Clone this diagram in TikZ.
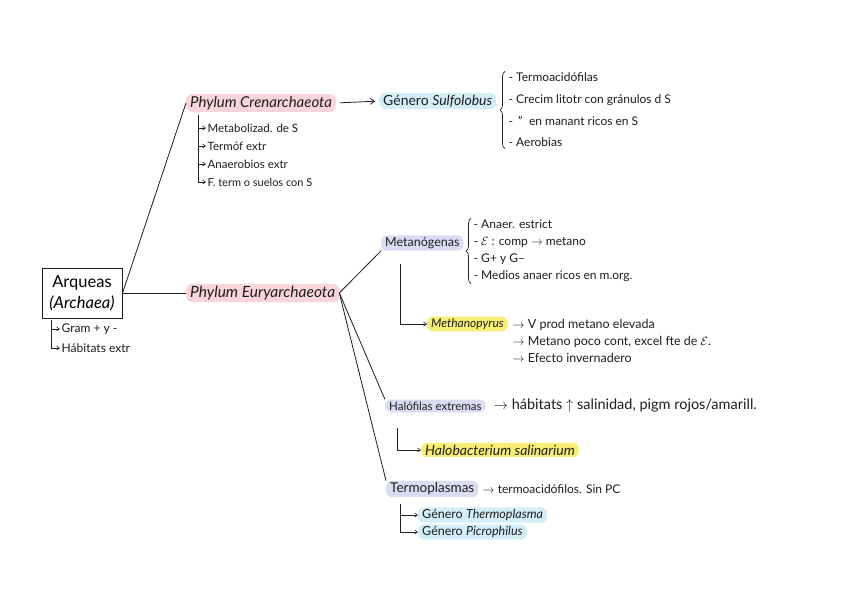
\documentclass[tikz,border=0pt]{standalone}
\usepackage{fontspec}
\setmainfont{Lato}
\usetikzlibrary{positioning,arrows.meta,decorations.pathreplacing}
\definecolor{MarkPink}{HTML}{F9D5DA}
\definecolor{MarkBlue}{HTML}{D3EEF8}
\definecolor{MarkLilac}{HTML}{DADCF4}
\definecolor{MarkYellow}{HTML}{F7EE73}
\definecolor{Ink}{HTML}{1E1E1E}

\tikzset{
  hand/.style={font=\fontsize{11}{13}\selectfont, inner sep=1.5pt, text=Ink},
  marker/.style={hand, rounded corners=6pt, inner xsep=4pt, inner ysep=2pt},
  hook/.style={-{Straight Barb[length=3pt,width=4pt]}, line width=0.6pt, draw=Ink},
  link/.style={line width=0.8pt, draw=Ink},
  curly/.style={decorate, decoration={brace, amplitude=5pt}, line width=0.7pt, draw=Ink}
}

\begin{document}
\begin{tikzpicture}[x=1pt, y=-1pt]
  \useasboundingbox[fill=white] (0,0) rectangle (848,599);

  % raiz
  \node[
    draw=Ink,
    line width=1pt,
    minimum width=80pt,
    minimum height=50pt,
    inner sep=1pt,
    align=center,
    font=\fontsize{16.5}{21}\selectfont
  ] (arq) at (82,293) {Arqueas\\{\itshape (Archaea)}};
  \coordinate (arqroot) at (51,320);
  \node[hand, anchor=west, font=\fontsize{12}{13}\selectfont] (ar1) at (60,329) {Gram + y -};
  \node[hand, anchor=west, font=\fontsize{12}{13}\selectfont] (ar2) at (60,348) {Hábitats extr};
  \foreach \i in {1,2}
    \draw[hook] (arqroot) |- (ar\i.west);

  % phylum crenarchaeota
  \node[marker, fill=MarkPink, anchor=west, font=\fontsize{15}{17}\selectfont\itshape] (crena) at (186,103) {Phylum Crenarchaeota};
  \node[marker, fill=MarkBlue, anchor=west, font=\fontsize{14}{16}\selectfont] (sulfo) at (379,101) {Género \textit{Sulfolobus}};
  \node[
    hand,
    anchor=west,
    align=left,
    font=\fontsize{12}{21.7}\selectfont
  ] (slist) at (507,110) {- Termoacidófilas\\- Crecim litotr con gránulos d S\\- \,''\; en manant ricos en S\\- Aerobias};
  \draw[curly] ([xshift=-2pt]slist.south west) -- ([xshift=-2pt]slist.north west);

  \coordinate (crenroot) at (198,115);
  \node[hand, anchor=west, font=\fontsize{11.5}{12}\selectfont] (cr1) at (206,128) {Metabolizad. de S};
  \node[hand, anchor=west, font=\fontsize{11.5}{12}\selectfont] (cr2) at (206,146) {Termóf extr};
  \node[hand, anchor=west, font=\fontsize{11.5}{12}\selectfont] (cr3) at (206,164) {Anaerobios extr};
  \node[hand, anchor=west, font=\fontsize{11}{12}\selectfont] (cr4) at (206,182) {F. term o suelos con S};
  \foreach \i in {1,...,4}
    \draw[hook] (crenroot) |- (cr\i.west);

  % phylum euryarchaeota
  \node[marker, fill=MarkPink, anchor=west, font=\fontsize{15.5}{17}\selectfont\itshape] (eury) at (186,293) {Phylum Euryarchaeota};

  % metanogenas
  \node[marker, fill=MarkLilac, anchor=west, font=\fontsize{12.5}{14}\selectfont] (metan) at (381,243) {Metanógenas};
  \node[
    hand,
    anchor=west,
    align=left,
    font=\fontsize{12}{17}\selectfont
  ] (mlist) at (472,251) {- Anaer. estrict\\- $\mathcal{E}$ : comp $\to$ metano\\- G+ y G--\\- Medios anaer ricos en m.org.};
  \draw[curly] ([xshift=-1pt]mlist.south west) -- ([xshift=-1pt]mlist.north west);

  \coordinate (metroot) at (400,264);
  \node[marker, fill=MarkYellow, anchor=west, font=\fontsize{12}{13}\selectfont\itshape] (pyrus) at (427,324) {Methanopyrus};
  \node[
    hand,
    anchor=west,
    align=left,
    font=\fontsize{12.5}{17}\selectfont
  ] (plist) at (511,341) {$\to$ V prod metano elevada\\$\to$ Metano poco cont, excel fte de $\mathcal{E}$.\\$\to$ Efecto invernadero};
  \draw[hook] (metroot) |- (pyrus.west);

  % halofilas
  \node[marker, fill=MarkLilac, anchor=west, font=\fontsize{11.5}{14}\selectfont] (halo) at (385,406) {Halófilas extremas};
  \node[hand, anchor=west, font=\fontsize{14.5}{17}\selectfont] (hdesc) at (492,406) {$\to$ hábitats $\uparrow$ salinidad, pigm rojos/amarill.};
  \coordinate (halroot) at (397,428);
  \node[marker, fill=MarkYellow, anchor=west, font=\fontsize{14}{15}\selectfont\itshape] (halob) at (421,450) {Halobacterium salinarium};
  \draw[hook] (halroot) |- (halob.west);

  % termoplasmas
  \node[marker, fill=MarkLilac, anchor=west, font=\fontsize{13.5}{15}\selectfont] (termo) at (386,489) {Termoplasmas};
  \node[hand, anchor=west, font=\fontsize{12}{13}\selectfont] (tdesc) at (481,489) {$\to$ termoacidófilos. Sin PC};
  \coordinate (terroot) at (400,504);
  \node[marker, fill=MarkBlue, anchor=west, font=\fontsize{12.5}{14}\selectfont] (tg1) at (418,515) {Género \textit{Thermoplasma}};
  \node[marker, fill=MarkBlue, anchor=west, font=\fontsize{12.5}{14}\selectfont] (tg2) at (418,532) {Género \textit{Picrophilus}};
  \foreach \i in {1,2}
    \draw[hook] (terroot) |- (tg\i.west);

  % conexiones
  \draw[link] (arq.east) -- (crena.west);
  \draw[link] (arq.east) -- (eury.west);
  \draw[link, -{Straight Barb[length=4pt,width=6pt]}, shorten <=4pt, shorten >=4pt] (crena.east) -- (sulfo.west);
  \draw[link] (eury.east) -- (metan.south west);
  \draw[link] (eury.east) -- (halo.north west);
  \draw[link] (eury.east) -- (termo.north west);
\end{tikzpicture}
\end{document}
